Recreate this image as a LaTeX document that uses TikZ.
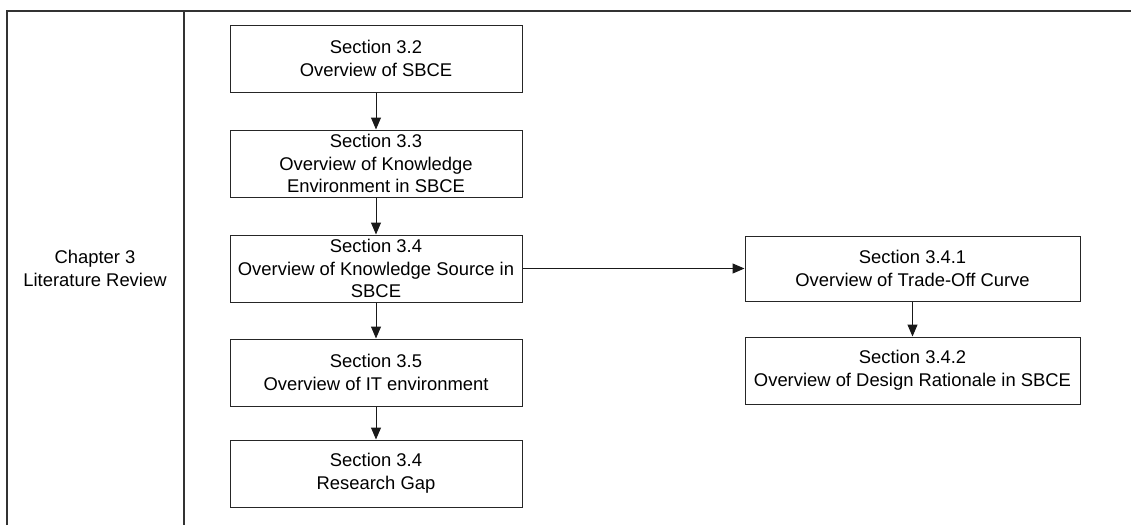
\documentclass[tikz,border=0pt]{standalone}
\usepackage{fontspec}
\setmainfont{Liberation Sans}
\usetikzlibrary{arrows.meta}
\begin{document}
\begin{tikzpicture}[x=1pt,y=-1pt,
  every node/.style={font=\fontsize{18.4}{22.7}\selectfont, align=center, inner sep=0pt},
  secbox/.style={draw=black!85, line width=1pt, minimum height=67pt},
  leftbox/.style={secbox, minimum width=292pt},
  rightbox/.style={secbox, minimum width=335pt},
  flow/.style={draw=black!90, line width=1pt, -{Triangle[length=12pt,width=10pt]}},
  frame/.style={draw=black!80, line width=1.2pt}]
  \useasboundingbox (0,0) rectangle (1131,525);

  % table frame with the chapter column
  \coordinate (tl) at (7,11);
  \coordinate (tr) at (1131,11);
  \coordinate (bl) at (7,525);
  \coordinate (dtop) at (184,11);
  \coordinate (dbot) at (184,525);
  \draw[frame] (bl) -- (tl) -- (tr);
  \draw[frame] (dtop) -- (dbot);

  \node (chap) at (95,268.5) {Chapter 3\\Literature Review};

  % main chain of sections
  \node[leftbox] (s32) at (376,58.5) {Section 3.2\\Overview of SBCE};
  \node[leftbox] (s33) at (376,163.5) {Section 3.3\\Overview of Knowledge\\Environment in SBCE};
  \node[leftbox] (s34) at (376,268.5) {Section 3.4\\Overview of Knowledge Source in\\SBCE};
  \node[leftbox] (s35) at (376,372.5) {Section 3.5\\Overview of IT environment};
  \node[leftbox] (gap) at (376,473.5) {Section 3.4\\Research Gap};

  % subsections of 3.4
  \node[rightbox, minimum height=65pt] (s341) at (912.5,268.5) {Section 3.4.1\\Overview of Trade-Off Curve};
  \node[rightbox] (s342) at (912.5,370.5) {Section 3.4.2\\Overview of Design Rationale in SBCE};

  \draw[flow] (s32) -- (s33);
  \draw[flow] (s33) -- (s34);
  \draw[flow] (s34) -- (s35);
  \draw[flow] (s35) -- (gap);
  \draw[flow] (s34) -- (s341);
  \draw[flow] (s341) -- (s342);
\end{tikzpicture}
\end{document}
